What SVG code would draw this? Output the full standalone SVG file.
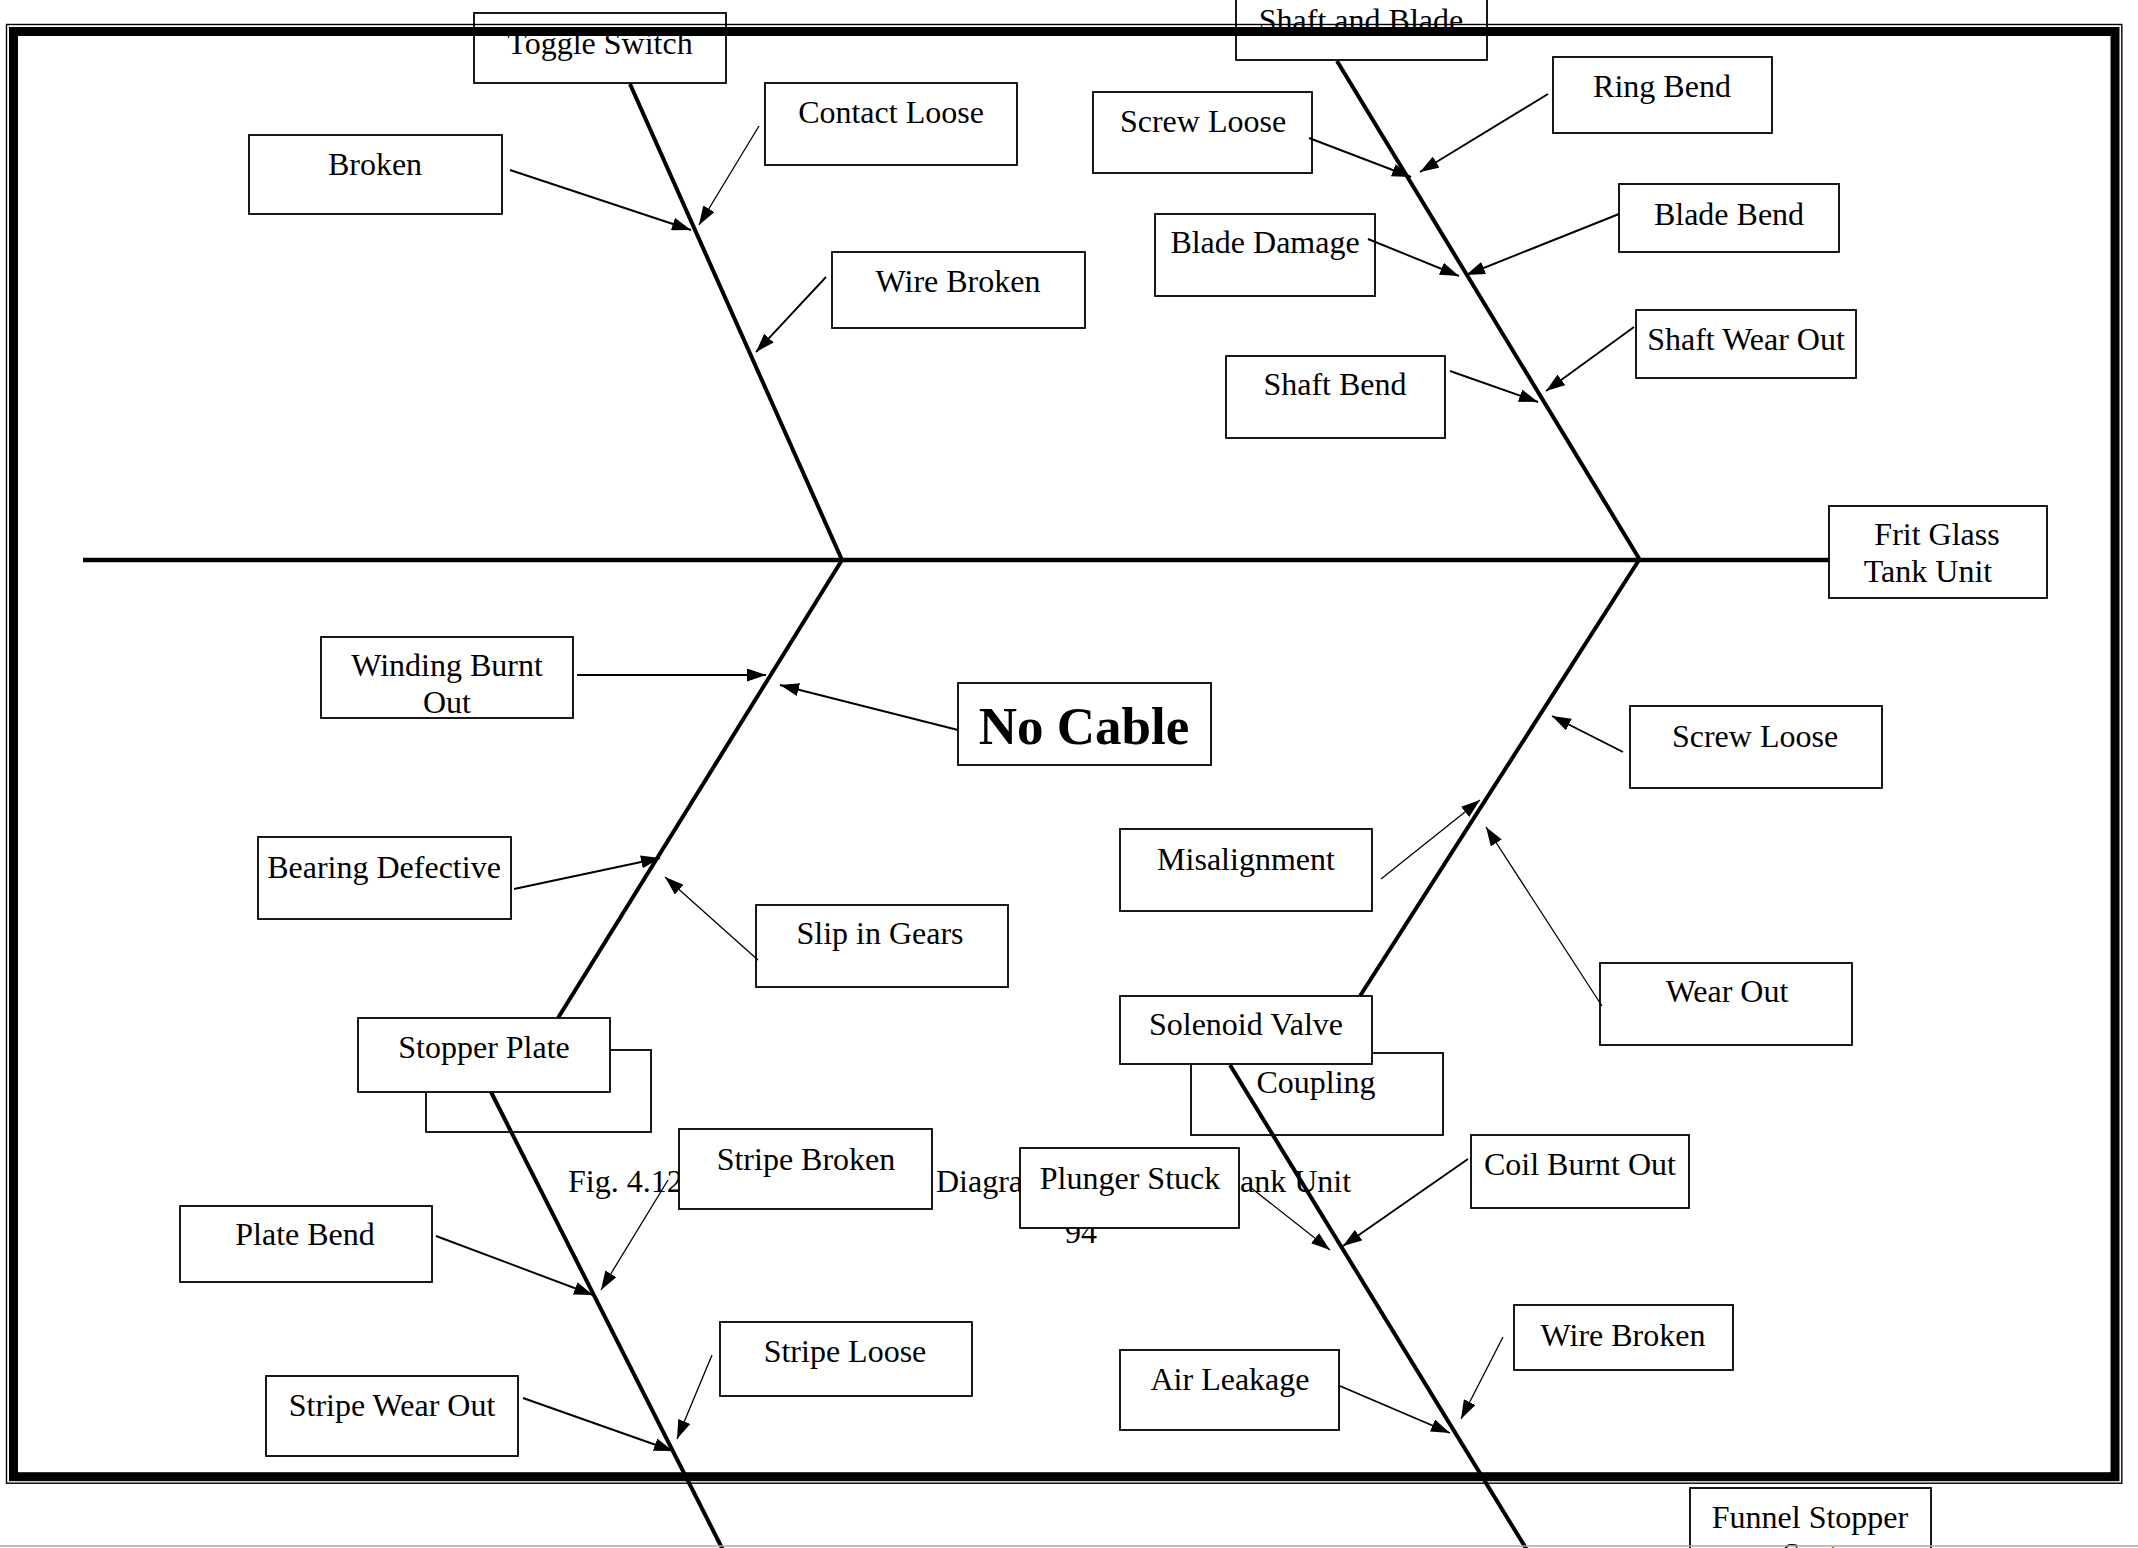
<svg xmlns="http://www.w3.org/2000/svg" width="2138" height="1548" viewBox="0 0 2138 1548">
  <defs>
    <style>
      .box { fill: #fff; stroke: #000; stroke-width: 1.8; }
      .t { font-family: "Liberation Serif", "Times New Roman", serif; font-size: 32px; fill: #000; text-anchor: middle; }
      .cap { font-family: "Liberation Serif", "Times New Roman", serif; font-size: 32px; fill: #000; }
      .big { font-size: 53px; font-weight: bold; }
      .bone { stroke: #000; stroke-width: 4; fill: none; }
      .spine { stroke: #000; stroke-width: 4.6; fill: none; }
      .arr { stroke: #000; stroke-width: 1.9; fill: none; marker-end: url(#ah); }
      .fine { stroke-width: 1.3; }
    </style>
    <marker id="ah" markerUnits="userSpaceOnUse" markerWidth="20" markerHeight="13" refX="19" refY="6.5" orient="auto">
      <path d="M0,0 L19,6.5 L0,13 z" fill="#000"/>
    </marker>
  </defs>

  <rect x="0" y="0" width="2138" height="1548" fill="#fff"/>

  <!-- figure caption, partly hidden behind the cause boxes -->
  <g id="caption">
    <text class="cap" x="568" y="1192">Fig. 4.12</text>
    <text class="cap" x="936" y="1192">Diagra</text>
    <text class="cap" x="1240" y="1192">ank Unit</text>
    <text class="cap" x="1065" y="1243">94</text>
  </g>

  <!-- top-left bone: Toggle Switch -->
  <g id="toggle-switch"><rect class="box" x="474" y="13" width="252" height="70"/><text class="t" x="600" y="54">Toggle Switch</text></g>
  <g id="contact-loose"><rect class="box" x="765" y="83" width="252" height="82"/><text class="t" x="891" y="123">Contact Loose</text></g>
  <g id="broken"><rect class="box" x="249" y="135" width="253" height="79"/><text class="t" x="375" y="175">Broken</text></g>
  <g id="wire-broken-top"><rect class="box" x="832" y="252" width="253" height="76"/><text class="t" x="958" y="292">Wire Broken</text></g>

  <!-- top-right bone: Shaft and Blade -->
  <g id="shaft-and-blade"><rect class="box" x="1236" y="-2" width="251" height="62"/><text class="t" x="1361" y="31">Shaft and Blade</text></g>
  <g id="ring-bend"><rect class="box" x="1553" y="57" width="219" height="76"/><text class="t" x="1662" y="97">Ring Bend</text></g>
  <g id="screw-loose-top"><rect class="box" x="1093" y="92" width="219" height="81"/><text class="t" x="1203" y="132">Screw Loose</text></g>
  <g id="blade-bend"><rect class="box" x="1619" y="184" width="220" height="68"/><text class="t" x="1729" y="225">Blade Bend</text></g>
  <g id="blade-damage"><rect class="box" x="1155" y="214" width="220" height="82"/><text class="t" x="1265" y="253">Blade Damage</text></g>
  <g id="shaft-wear-out"><rect class="box" x="1636" y="310" width="220" height="68"/><text class="t" x="1746" y="350">Shaft Wear Out</text></g>
  <g id="shaft-bend"><rect class="box" x="1226" y="356" width="219" height="82"/><text class="t" x="1335" y="395">Shaft Bend</text></g>

  <!-- effect -->
  <g id="frit-glass-tank-unit"><rect class="box" x="1829" y="506" width="218" height="92"/><text class="t" x="1937" y="545">Frit Glass</text><text class="t" x="1928" y="582">Tank Unit</text></g>

  <!-- lower-left bone -->
  <g id="winding-burnt-out"><rect class="box" x="321" y="637" width="252" height="81"/><text class="t" x="447" y="676">Winding Burnt</text><text class="t" x="447" y="713">Out</text></g>
  <g id="no-cable"><rect class="box" x="958" y="683" width="253" height="82"/><text class="t big" x="1084" y="744">No Cable</text></g>
  <g id="bearing-defective"><rect class="box" x="258" y="837" width="253" height="82"/><text class="t" x="384" y="878">Bearing Defective</text></g>
  <g id="slip-in-gears"><rect class="box" x="756" y="905" width="252" height="82"/><text class="t" x="880" y="944">Slip in Gears</text></g>

  <!-- lower-right bone -->
  <g id="screw-loose-low"><rect class="box" x="1630" y="706" width="252" height="82"/><text class="t" x="1755" y="747">Screw Loose</text></g>
  <g id="misalignment"><rect class="box" x="1120" y="829" width="252" height="82"/><text class="t" x="1246" y="870">Misalignment</text></g>
  <g id="wear-out"><rect class="box" x="1600" y="963" width="252" height="82"/><text class="t" x="1727" y="1002">Wear Out</text></g>

  <!-- stopper plate bone -->
  <g id="stopper-back"><rect class="box" x="426" y="1050" width="225" height="82"/></g>
  <g id="stopper-plate"><rect class="box" x="358" y="1018" width="252" height="74"/><text class="t" x="484" y="1058">Stopper Plate</text></g>
  <g id="stripe-broken"><rect class="box" x="679" y="1129" width="253" height="80"/><text class="t" x="806" y="1170">Stripe Broken</text></g>
  <g id="plate-bend"><rect class="box" x="180" y="1206" width="252" height="76"/><text class="t" x="305" y="1245">Plate Bend</text></g>
  <g id="stripe-loose"><rect class="box" x="720" y="1322" width="252" height="74"/><text class="t" x="845" y="1362">Stripe Loose</text></g>
  <g id="stripe-wear-out"><rect class="box" x="266" y="1376" width="252" height="80"/><text class="t" x="392" y="1416">Stripe Wear Out</text></g>

  <!-- solenoid valve bone -->
  <g id="coupling"><rect class="box" x="1191" y="1053" width="252" height="82"/><text class="t" x="1316" y="1093">Coupling</text></g>
  <g id="solenoid-valve"><rect class="box" x="1120" y="996" width="252" height="68"/><text class="t" x="1246" y="1035">Solenoid Valve</text></g>
  <g id="plunger-stuck"><rect class="box" x="1020" y="1148" width="219" height="80"/><text class="t" x="1130" y="1189">Plunger Stuck</text></g>
  <g id="coil-burnt-out"><rect class="box" x="1471" y="1135" width="218" height="73"/><text class="t" x="1580" y="1175">Coil Burnt Out</text></g>
  <g id="wire-broken-low"><rect class="box" x="1514" y="1305" width="219" height="65"/><text class="t" x="1623" y="1346">Wire Broken</text></g>
  <g id="air-leakage"><rect class="box" x="1120" y="1350" width="219" height="80"/><text class="t" x="1230" y="1390">Air Leakage</text></g>

  <g id="funnel-stopper-seat"><rect class="box" x="1690" y="1488" width="241" height="80"/><text class="t" x="1810" y="1528">Funnel Stopper</text><text class="t" x="1810" y="1565">Seat</text></g>

  <!-- bones and cause arrows -->
  <g id="connectors">
    <line class="spine" x1="83" y1="560" x2="1829" y2="560"/>
    <line class="bone" x1="630" y1="84" x2="842" y2="560"/>
    <line class="bone" x1="1337" y1="61" x2="1640" y2="560"/>
    <line class="bone" x1="842" y1="560" x2="558" y2="1018"/>
    <line class="bone" x1="1639" y1="560" x2="1360" y2="996"/>
    <line class="bone" x1="491" y1="1092" x2="723" y2="1550"/>
    <line class="bone" x1="1230" y1="1065" x2="1527" y2="1550"/>

    <line class="arr" x1="510" y1="170" x2="691" y2="230"/>
    <line class="arr fine" x1="759" y1="126" x2="699" y2="225"/>
    <line class="arr" x1="826" y1="277" x2="756" y2="352"/>

    <line class="arr" x1="1309" y1="138" x2="1411" y2="177"/>
    <line class="arr" x1="1548" y1="94" x2="1420" y2="172"/>
    <line class="arr" x1="1368" y1="239" x2="1459" y2="276"/>
    <line class="arr" x1="1619" y1="214" x2="1466" y2="275"/>
    <line class="arr" x1="1634" y1="327" x2="1546" y2="391"/>
    <line class="arr" x1="1450" y1="371" x2="1538" y2="402"/>

    <line class="arr" x1="577" y1="675" x2="766" y2="675"/>
    <line class="arr" x1="958" y1="730" x2="780" y2="685"/>
    <line class="arr" x1="514" y1="889" x2="660" y2="858"/>
    <line class="arr fine" x1="758" y1="960" x2="665" y2="877"/>

    <line class="arr" x1="1623" y1="752" x2="1552" y2="716"/>
    <line class="arr fine" x1="1381" y1="879" x2="1480" y2="800"/>
    <line class="arr fine" x1="1602" y1="1006" x2="1486" y2="827"/>

    <line class="arr fine" x1="668" y1="1180" x2="601" y2="1290"/>
    <line class="arr" x1="436" y1="1236" x2="593" y2="1295"/>
    <line class="arr fine" x1="712" y1="1355" x2="677" y2="1439"/>
    <line class="arr" x1="523" y1="1398" x2="673" y2="1451"/>

    <line class="arr fine" x1="1250" y1="1187" x2="1330" y2="1250"/>
    <line class="arr" x1="1468" y1="1159" x2="1343" y2="1246"/>
    <line class="arr fine" x1="1503" y1="1337" x2="1461" y2="1419"/>
    <line class="arr" x1="1340" y1="1386" x2="1450" y2="1433"/>
  </g>

  <!-- page border: thin outer rule and heavy inner rule -->
  <g id="border">
    <rect x="6.5" y="24.5" width="2115.3" height="1458.7" fill="none" stroke="#000" stroke-width="1.4"/>
    <rect x="13.5" y="31.5" width="2101.5" height="1445.2" fill="none" stroke="#000" stroke-width="9"/>
  </g>
  <line x1="0" y1="1546" x2="2138" y2="1546" stroke="#a8a8a8" stroke-width="1.6"/>
</svg>
